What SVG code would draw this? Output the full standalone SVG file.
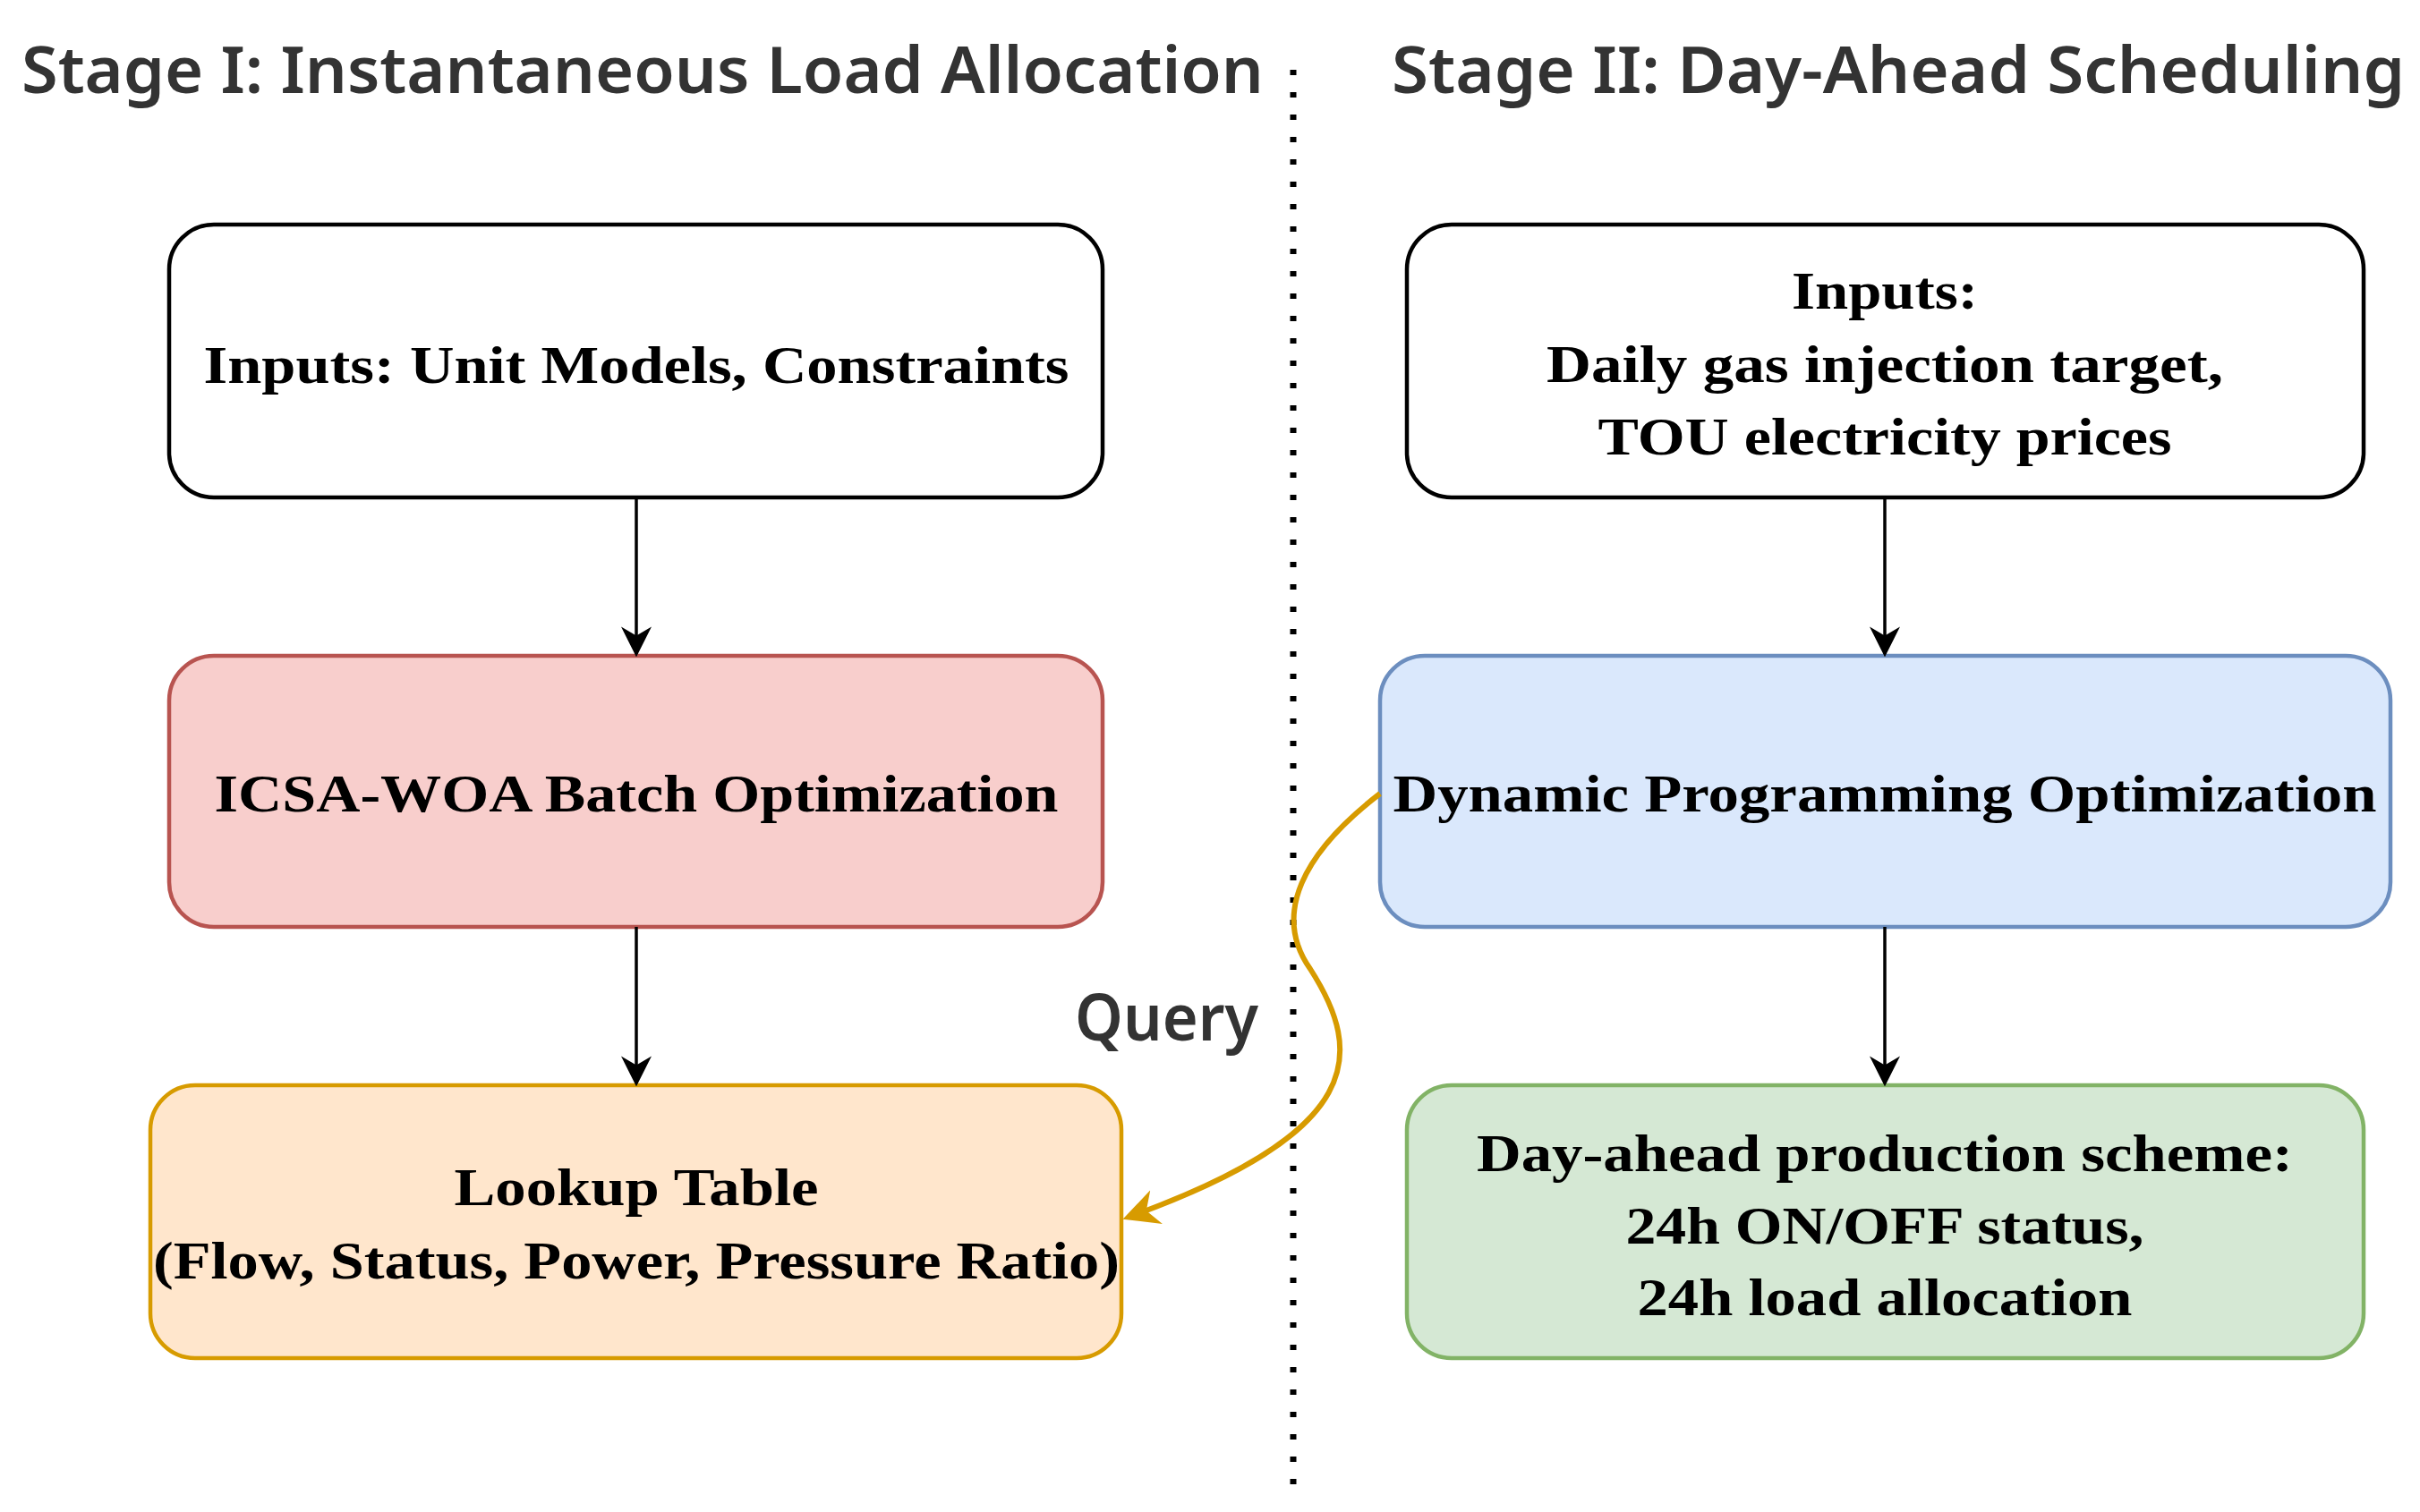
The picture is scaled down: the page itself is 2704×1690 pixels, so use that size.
<svg xmlns="http://www.w3.org/2000/svg" width="2704" height="1690" viewBox="0 0 2704 1690">
<defs>
<style>
.box{stroke-width:4.5}
.t{font-family:"Liberation Serif",serif;font-weight:bold;font-size:60px;fill:#000;text-anchor:middle}
.h{font-family:"Noto Sans",sans-serif;font-weight:600;font-size:72px;fill:#333}
.c{fill:none;stroke:#000;stroke-width:3.5}
</style>
<marker id="ar" viewBox="0 0 20 20" refX="18" refY="10" markerWidth="34" markerHeight="40" markerUnits="userSpaceOnUse" orient="auto"><path d="M0,0 L20,10 L0,20 L6,10 Z" fill="#000"/></marker>
<marker id="ag" viewBox="0 0 20 20" refX="16" refY="10" markerWidth="40" markerHeight="44" markerUnits="userSpaceOnUse" orient="auto"><path d="M0,0 L20,10 L0,20 L6,10 Z" fill="#d79b00"/></marker>
</defs>
<rect width="2704" height="1690" fill="#fff"/>
<text class="h" x="24" y="104" textLength="1388" lengthAdjust="spacingAndGlyphs">Stage I: Instantaneous Load Allocation</text>
<text class="h" x="1555" y="104" textLength="1132" lengthAdjust="spacingAndGlyphs">Stage II: Day-Ahead Scheduling</text>
<line x1="1445" y1="78" x2="1445" y2="1672" stroke="#000" stroke-width="7" stroke-dasharray="6,19"/>
<g id="n1"><rect class="box" x="189" y="251" width="1043" height="305" rx="50" fill="#fff" stroke="#000"/>
<text class="t" x="711" y="428" textLength="967" lengthAdjust="spacingAndGlyphs">Inputs: Unit Models, Constraints</text></g>
<g id="n2"><rect class="box" x="189" y="733" width="1043" height="303" rx="50" fill="#f8cecc" stroke="#b85450"/>
<text class="t" x="711" y="907" textLength="943" lengthAdjust="spacingAndGlyphs">ICSA-WOA Batch Optimization</text></g>
<g id="n3"><rect class="box" x="168" y="1213" width="1085" height="305" rx="50" fill="#ffe6cc" stroke="#d79b00"/>
<text class="t" x="711" y="1347" textLength="407" lengthAdjust="spacingAndGlyphs">Lookup Table</text>
<text class="t" x="711" y="1429" textLength="1080" lengthAdjust="spacingAndGlyphs">(Flow, Status, Power, Pressure Ratio)</text></g>
<g id="n4"><rect class="box" x="1572" y="251" width="1069" height="305" rx="50" fill="#fff" stroke="#000"/>
<text class="t" x="2106" y="345" textLength="208" lengthAdjust="spacingAndGlyphs">Inputs:</text>
<text class="t" x="2106" y="427" textLength="756" lengthAdjust="spacingAndGlyphs">Daily gas injection target,</text>
<text class="t" x="2106" y="508" textLength="641" lengthAdjust="spacingAndGlyphs">TOU electricity prices</text></g>
<g id="n5"><rect class="box" x="1542" y="733" width="1129" height="303" rx="50" fill="#dae8fc" stroke="#6c8ebf"/>
<text class="t" x="2106" y="907" textLength="1099" lengthAdjust="spacingAndGlyphs">Dynamic Programming Optimization</text></g>
<g id="n6"><rect class="box" x="1572" y="1213" width="1069" height="305" rx="50" fill="#d5e8d4" stroke="#82b366"/>
<text class="t" x="2106" y="1309" textLength="912" lengthAdjust="spacingAndGlyphs">Day-ahead production scheme:</text>
<text class="t" x="2106" y="1390" textLength="579" lengthAdjust="spacingAndGlyphs">24h ON/OFF status,</text>
<text class="t" x="2106" y="1470" textLength="553" lengthAdjust="spacingAndGlyphs">24h load allocation</text></g>
<g id="connectors">
<line class="c" x1="711" y1="556" x2="711" y2="731" marker-end="url(#ar)"/>
<line class="c" x1="711" y1="1036" x2="711" y2="1211" marker-end="url(#ar)"/>
<line class="c" x1="2106" y1="556" x2="2106" y2="731" marker-end="url(#ar)"/>
<line class="c" x1="2106" y1="1036" x2="2106" y2="1211" marker-end="url(#ar)"/>
<path d="M1542,887 C1456,953 1421,1022 1464,1083 C1525,1178 1525,1265 1262,1360" fill="none" stroke="#d79b00" stroke-width="6" marker-end="url(#ag)"/>
<text class="h" x="1201" y="1163" font-size="66" textLength="205" lengthAdjust="spacingAndGlyphs">Query</text>
</g>
</svg>
